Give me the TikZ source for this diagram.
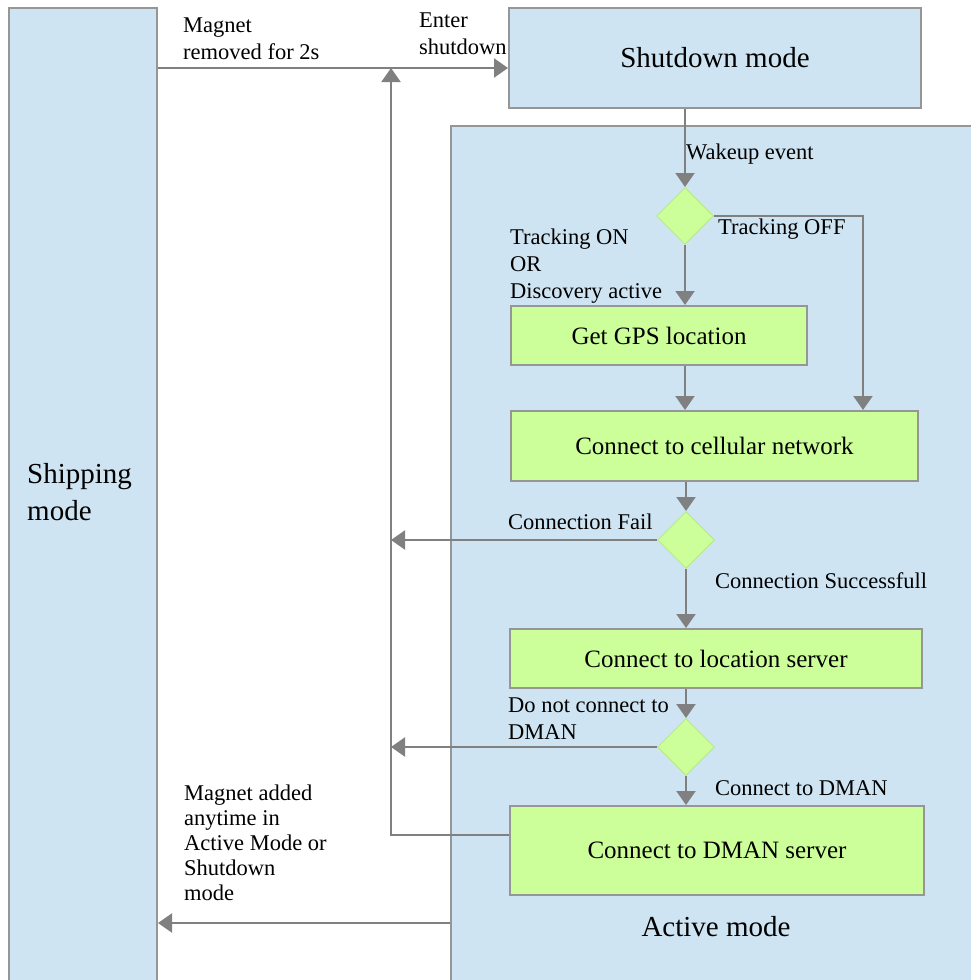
\documentclass[tikz,border=0pt]{standalone}
\usepackage{fontspec}
\setmainfont{Liberation Serif}
\usetikzlibrary{arrows.meta,shapes.geometric}
\definecolor{modeblue}{RGB}{207,228,242}
\definecolor{stepgreen}{RGB}{204,255,153}
\definecolor{choiceedge}{RGB}{185,235,140}
\definecolor{edgegray}{RGB}{128,128,128}
\definecolor{framegray}{RGB}{150,150,150}

\begin{document}
\begin{tikzpicture}[x=1pt,y=-1pt,
  modebox/.style={draw=framegray,line width=2pt,fill=modeblue,inner sep=0pt,
    font=\fontsize{29}{35}\selectfont},
  stepbox/.style={draw=framegray,line width=2pt,fill=stepgreen,inner sep=0pt,
    font=\fontsize{25}{30}\selectfont},
  choice/.style={diamond,draw=choiceedge,line width=1pt,fill=stepgreen,inner sep=0pt,
    minimum width=57pt,minimum height=57pt},
  conn/.style={draw=edgegray,line width=2.2pt,
    -{Triangle[length=14pt,width=19pt]}},
  lbl/.style={font=\fontsize{22.5}{27}\selectfont,inner sep=0pt,align=left},
  bigtext/.style={font=\fontsize{29}{37}\selectfont,inner sep=0pt,align=left}]

\clip (0,0) rectangle (971,980);

% mode containers
\node[modebox,anchor=north west,minimum width=148pt,minimum height=990pt] (ship) at (8,7) {};
\node[bigtext,anchor=north west] (shiplbl) at (27,463) {Shipping\\mode};
\node[modebox,anchor=north west,minimum width=412pt,minimum height=100pt] (shut) at (508,7) {Shutdown mode};
\node[modebox,anchor=north west,minimum width=540pt,minimum height=870pt] (active) at (450,125) {};
\node[bigtext,anchor=base] (activelbl) at (716,936) {Active mode};

% steps of the active mode
\node[stepbox,anchor=north west,minimum width=296pt,minimum height=59pt] (gps) at (510,305) {Get GPS location};
\node[stepbox,anchor=north west,minimum width=407pt,minimum height=70pt] (cell) at (510,410) {Connect to cellular network};
\node[stepbox,anchor=north west,minimum width=412pt,minimum height=59pt] (loc) at (509,628) {Connect to location server};
\node[stepbox,anchor=north west,minimum width=414pt,minimum height=89pt] (dman) at (509,805) {Connect to DMAN server};

% decisions
\node[choice] (d1) at (685,216) {};
\node[choice] (d2) at (686,540) {};
\node[choice] (d3) at (686,747) {};

% routing points
\coordinate (toprow) at (0,68);
\coordinate (retcorner) at (391,835);
\coordinate (rettop) at (391,68);
\coordinate (offright) at (863,216);
\coordinate (failend) at (391,540);
\coordinate (skipend) at (391,747);
\coordinate (bottomrow) at (0,923);

% connectors
\draw[conn] (ship.east |- toprow) -- (shut.west |- toprow);
\draw[conn] (dman.west |- retcorner) -- (retcorner) -- (rettop);
\draw[conn] (shut.south -| d1) -- (d1.north);
\draw[conn] (d1.south) -- (d1.south |- gps.north);
\draw[conn] (d1.east) -- (offright) -- (offright |- cell.north);
\draw[conn] (gps.south -| d1) -- (cell.north -| d1);
\draw[conn] (cell.south -| d2) -- (d2.north);
\draw[conn] (d2.west) -- (failend);
\draw[conn] (d2.south) -- (d2.south |- loc.north);
\draw[conn] (loc.south -| d3) -- (d3.north);
\draw[conn] (d3.west) -- (skipend);
\draw[conn] (d3.south) -- (d3.south |- dman.north);
\draw[conn] (active.west |- bottomrow) -- (ship.east |- bottomrow);

% transition labels
\node[lbl,anchor=north west] (lremoved) at (183,18) {Magnet\\removed for 2s};
\node[lbl,anchor=north west] (lenter) at (419,13) {Enter\\shutdown};
\node[lbl,anchor=base west] (lwake) at (686,159) {Wakeup event};
\node[lbl,anchor=base west] (loff) at (718,234) {Tracking OFF};
\node[lbl,anchor=north west] (lon) at (510,229) {Tracking ON\\OR\\Discovery active};
\node[lbl,anchor=base west] (lfail) at (508,529) {Connection Fail};
\node[lbl,anchor=base west] (lok) at (715,588) {Connection Successfull};
\node[lbl,anchor=north west] (lnodman) at (508,698) {Do not connect to\\DMAN};
\node[lbl,anchor=base west] (ldman) at (715,795) {Connect to DMAN};
\node[lbl,anchor=north west,font=\fontsize{22.5}{25}\selectfont] (ladded) at (184,785)
  {Magnet added\\anytime in\\Active Mode or\\Shutdown\\mode};
\end{tikzpicture}
\end{document}
